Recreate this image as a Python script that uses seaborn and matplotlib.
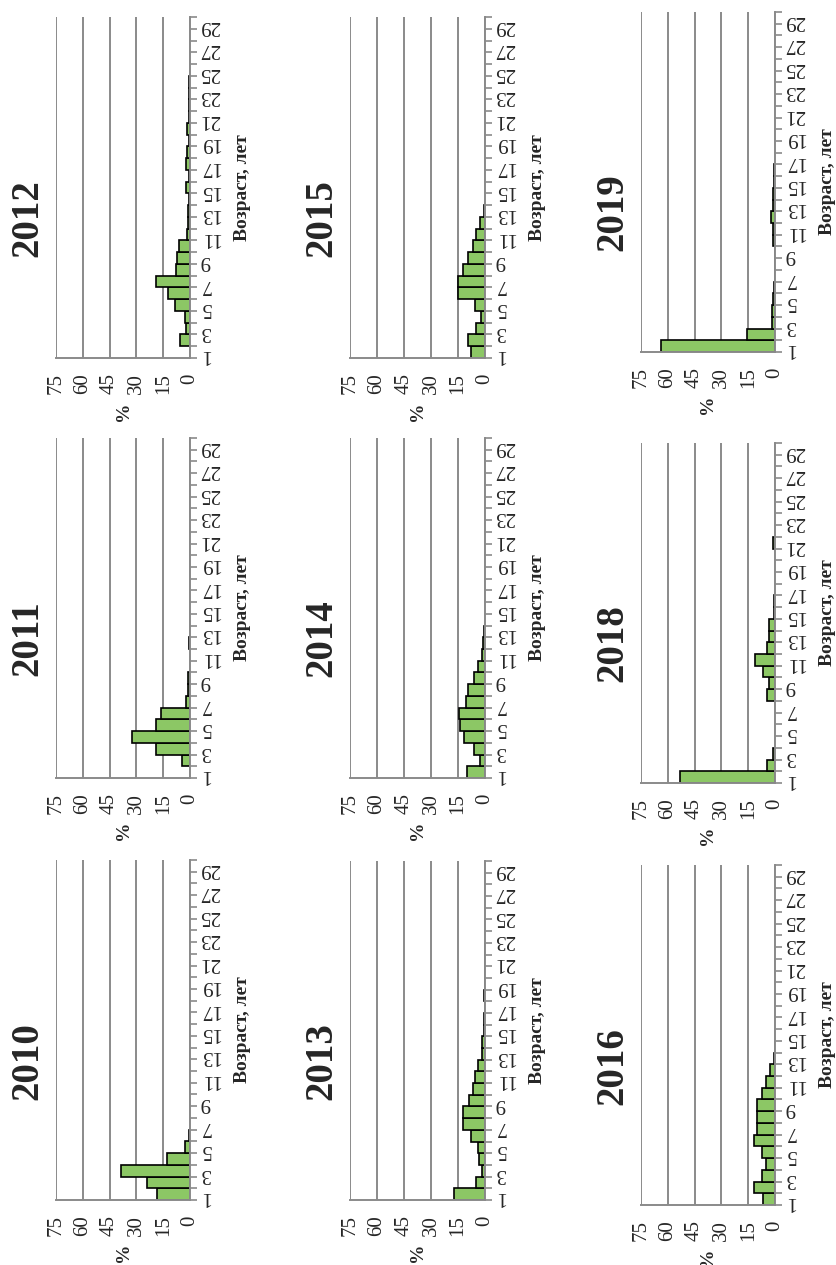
import numpy as np
import pandas as pd
import matplotlib
matplotlib.use("Agg")
import matplotlib.pyplot as plt
import seaborn as sns
from matplotlib.ticker import FixedLocator, NullFormatter

# ---------------- data ----------------
ages = list(range(1, 30))
age_labels = [str(a) for a in ages]
value_ticks = [0, 15, 30, 45, 60, 75]
x_label = "Возраст, лет"
y_label = "%"

def pad(v):
    return v + [0.0] * (29 - len(v))

y2010 = pad([18.7, 24.3, 38.8, 13.0, 2.8, 0.3])
y2011 = pad([0, 4.7, 18.8, 32.5, 18.8, 16.3, 2.3, 0.9, 0.9, 0, 0, 0.3])
y2012 = pad([0, 5.8, 2.3, 2.7, 8.3, 12.5, 18.8, 7.7, 7.0, 5.9, 1.8, 1.3, 1.0, 0.6,
             2.3, 0.6, 2.2, 1.9, 0.3, 1.5, 0.3, 0.3, 0.3, 0.3])
y2013 = pad([17.2, 5.2, 1.9, 3.1, 3.7, 8.0, 12.4, 12.4, 8.7, 6.5, 5.6, 4.1, 1.9, 1.5,
             0.5, 0.3, 0.2, 0.8, 0.2, 0.2, 0.2, 0.2])
y2014 = pad([10.0, 2.6, 6.0, 11.9, 14.0, 14.4, 10.6, 9.3, 6.0, 3.7, 1.7, 0.9, 0.3])
y2015 = pad([8.0, 9.3, 5.2, 2.2, 5.6, 15.2, 15.2, 12.0, 9.6, 6.5, 5.0, 2.8, 0.5])
y2016 = pad([6.7, 12.0, 7.0, 4.8, 7.4, 12.0, 10.2, 10.2, 10.2, 7.4, 4.8, 3.0, 0.5, 0.2])
y2018 = pad([52.9, 4.3, 1.1, 0, 0, 0, 0, 4.3, 3.3, 6.7, 11.1, 4.3, 3.3, 3.3, 0.5, 0.5,
             0, 0, 0, 0, 1.0])
y2019 = pad([63.9, 15.5, 1.9, 1.9, 0.9, 0.3, 0.2, 0.2, 0.2, 0.9, 1.3, 2.2, 1.3, 0.9,
             0.3, 0.3])

years = ["2010", "2011", "2012", "2013", "2014", "2015", "2016", "2018", "2019"]
series = [y2010, y2011, y2012, y2013, y2014, y2015, y2016, y2018, y2019]

# ---------------- style ----------------
sns.set_style("white")
plt.rcParams["font.family"] = ["Liberation Serif", "DejaVu Serif"]

W, H = 837, 1265
fig = plt.figure(figsize=(W / 100, H / 100), dpi=100)

# panel boxes in pixels: (left, top, width, height)  (page rotated 90 deg)
boxes = {
    "2010": (56, 860, 134, 340), "2011": (56, 438, 134, 340), "2012": (56, 17, 134, 341),
    "2013": (350, 861, 135, 339), "2014": (350, 438, 135, 340), "2015": (350, 17, 135, 341),
    "2016": (641, 865, 134, 340), "2018": (641, 443, 134, 340), "2019": (641, 12, 134, 340),
}

GREEN = "#8cc765"
GRID = "#8a8a8a"

for yr, vals in zip(years, series):
    l, t, w, h = boxes[yr]
    ax = fig.add_axes([l / W, 1 - (t + h) / H, w / W, h / H])
    df = pd.DataFrame({"age": age_labels, "pct": vals})
    sns.barplot(data=df, x="pct", y="age", order=age_labels, orient="h",
                color=GREEN, saturation=1, edgecolor="black", linewidth=1.2,
                width=1.0, ax=ax)
    for p in ax.patches:
        if p.get_width() == 0:
            p.set_visible(False)
    ax.set_xlim(75, 0)
    ax.set_ylim(-0.5, 28.5)

    # spines
    for s in ["left", "top"]:
        ax.spines[s].set_visible(False)
    for s in ["right", "bottom"]:
        ax.spines[s].set_color(GRID)
        ax.spines[s].set_linewidth(1.4)

    # value axis (bottom)
    ax.set_xticks(value_ticks)
    ax.set_xticklabels([str(v) for v in value_ticks], rotation=90, fontsize=15)
    ax.tick_params(axis="x", direction="out", length=5, width=1.2, color=GRID, pad=6)
    ax.xaxis.grid(True, color=GRID, linewidth=1.4)
    ax.yaxis.grid(False)
    ax.set_axisbelow(True)

    # category axis (right)
    ax.yaxis.tick_right()
    ax.yaxis.set_label_position("right")
    ax.set_yticks(list(range(0, 29, 2)))
    ax.set_yticklabels(age_labels[::2], rotation=180, fontsize=15)
    ax.yaxis.set_minor_locator(FixedLocator(np.arange(-0.5, 29, 1.0)))
    ax.yaxis.set_minor_formatter(NullFormatter())
    ax.tick_params(axis="y", which="major", length=0, pad=7)
    ax.tick_params(axis="y", which="minor", direction="out", length=5, width=1.2, color=GRID,
                   right=True, left=False)
    ax.set_xlabel("")
    ax.set_ylabel("")

    ax.text(-0.207, 0.41, yr, transform=ax.transAxes, rotation=90, ha="center",
            va="center", fontsize=28, fontweight="bold")
    ax.text(1.39, 0.5, x_label, transform=ax.transAxes, rotation=90, ha="center",
            va="center", fontsize=14, fontweight="bold")
    ax.text(0.5, -0.155, y_label, transform=ax.transAxes, rotation=90, ha="center",
            va="center", fontsize=14, fontweight="bold")

fig.savefig("out.png", dpi=100, facecolor="white")
